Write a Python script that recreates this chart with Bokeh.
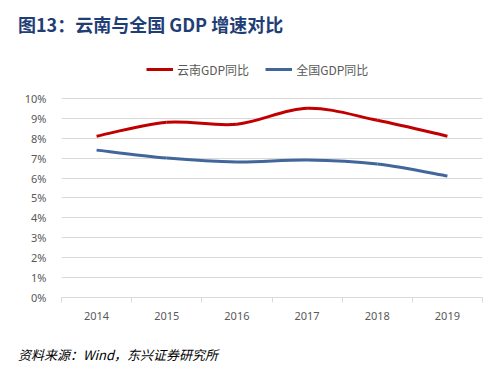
from bokeh.plotting import figure
from bokeh.models import FixedTicker, Range1d, Legend, Div
from bokeh.layouts import column
from bokeh.embed import file_html
from bokeh.resources import INLINE

years = ["2014", "2015", "2016", "2017", "2018", "2019"]
yunnan = [8.1, 8.8, 8.7, 9.5, 8.9, 8.1]
china = [7.4, 7.0, 6.8, 6.9, 6.7, 6.1]
y_ticks = list(range(0, 11))

xs = list(range(len(years)))

def bez(vals):
    n = len(vals)
    x0, y0, x1, y1, cx0, cy0, cx1, cy1 = [], [], [], [], [], [], [], []
    for i in range(n - 1):
        pm = max(i - 1, 0)
        pp = min(i + 2, n - 1)
        x0.append(xs[i]); y0.append(vals[i])
        x1.append(xs[i + 1]); y1.append(vals[i + 1])
        cx0.append(xs[i] + (xs[i + 1] - xs[pm]) / 6)
        cy0.append(vals[i] + (vals[i + 1] - vals[pm]) / 6)
        cx1.append(xs[i + 1] - (xs[pp] - xs[i]) / 6)
        cy1.append(vals[i + 1] - (vals[pp] - vals[i]) / 6)
    return dict(x0=x0, y0=y0, x1=x1, y1=y1, cx0=cx0, cy0=cy0, cx1=cx1, cy1=cy1)

title = Div(text="图13：云南与全国 GDP 增速对比", width=496, height=40, margin=0,
            styles={"font-family": "Noto Sans CJK SC", "font-size": "18px",
                    "font-weight": "bold", "color": "#1f3e76", "line-height": "24px",
                    "padding-top": "12px", "padding-left": "18px", "white-space": "nowrap"})

p = figure(width=496, height=300, output_backend="svg", toolbar_location=None,
           x_range=Range1d(-0.5, len(years) - 0.5), y_range=Range1d(0, 11.9),
           min_border_left=61, min_border_right=14, min_border_top=20, min_border_bottom=43,
           margin=0)
p.outline_line_color = None
p.background_fill_color = "white"
p.border_fill_color = "white"
p.title = None

src = Div(text="资料来源：Wind，东兴证券研究所", width=496, height=36, margin=0,
          styles={"font-family": "Noto Sans CJK SC", "font-size": "13px",
                  "font-style": "italic", "color": "#000000", "line-height": "16px",
                  "padding-top": "7px", "padding-left": "18px", "white-space": "nowrap"})

r1 = p.bezier(source=bez(yunnan), x0="x0", y0="y0", x1="x1", y1="y1", cx0="cx0", cy0="cy0",
              cx1="cx1", cy1="cy1", line_color="#c00000", line_width=3)
r2 = p.bezier(source=bez(china), x0="x0", y0="y0", x1="x1", y1="y1", cx0="cx0", cy0="cy0",
              cx1="cx1", cy1="cy1", line_color="#41669b", line_width=3)

leg = Legend(items=[("云南GDP同比", [r1]), ("全国GDP同比", [r2])], location=(85, 218),
             orientation="horizontal", border_line_color=None, background_fill_alpha=0,
             label_text_font="Noto Sans CJK SC", label_text_font_size="12px",
             label_text_color="#595959", glyph_width=27, spacing=16, margin=0, padding=0,
             label_standoff=4)
p.add_layout(leg)

p.xaxis.ticker = FixedTicker(ticks=xs, minor_ticks=[i - 0.5 for i in range(len(years) + 1)])
p.xaxis.major_label_overrides = {i: y for i, y in enumerate(years)}
p.xaxis.major_tick_line_color = None
p.xaxis.minor_tick_in = 0
p.xaxis.minor_tick_out = 5
p.xaxis.minor_tick_line_color = "#d9d9d9"
p.xaxis.axis_line_color = "#d9d9d9"
p.xaxis.major_label_text_font = "Noto Sans"
p.xaxis.major_label_text_font_size = "11px"
p.xaxis.major_label_text_color = "#595959"
p.xaxis.major_label_standoff = 8

p.yaxis.ticker = FixedTicker(ticks=y_ticks)
p.yaxis.major_label_overrides = {t: f"{t}%" for t in y_ticks}
p.yaxis.axis_line_color = None
p.yaxis.major_tick_line_color = None
p.yaxis.minor_tick_line_color = None
p.yaxis.major_label_text_font = "Noto Sans"
p.yaxis.major_label_text_font_size = "11px"
p.yaxis.major_label_text_color = "#595959"
p.yaxis.major_label_standoff = 9

p.xgrid.grid_line_color = None
p.ygrid.grid_line_color = "#d9d9d9"
p.ygrid.grid_line_width = 1

layout = column(title, p, src, spacing=0, margin=0)
open("out.html", "w").write(file_html(layout, INLINE))
